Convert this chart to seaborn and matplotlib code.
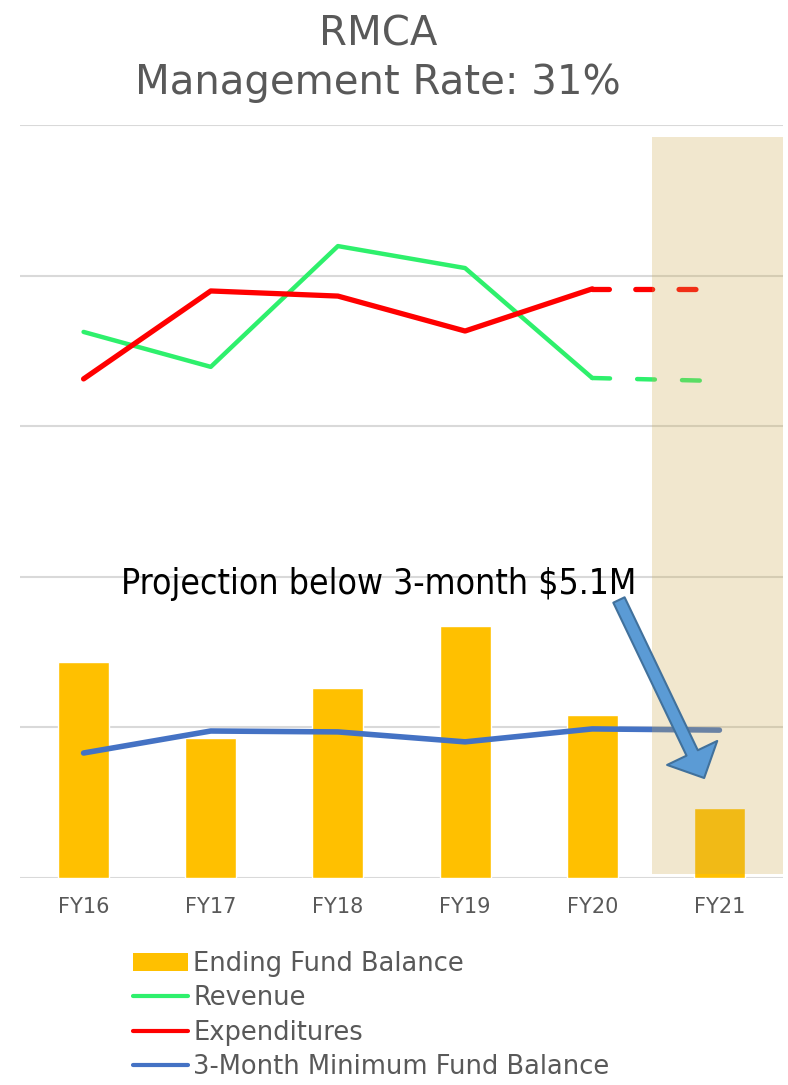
import numpy as np
import pandas as pd
import matplotlib.pyplot as plt
from matplotlib.patches import Patch
from matplotlib.lines import Line2D
import seaborn as sns

# values ($M, gridline step = 5)
years = ["FY16", "FY17", "FY18", "FY19", "FY20", "FY21"]
ending_balance = [7.17, 4.65, 6.31, 8.37, 5.41, 2.32]
revenue = [18.13, 16.97, 20.98, 20.25, 16.60, 16.50]
expenditures = [16.57, 19.49, 19.32, 18.16, 19.56, 19.56]
min_balance = [4.15, 4.88, 4.85, 4.52, 4.95, 4.91]

title = "RMCA\nManagement Rate: 31%"
note = "Projection below 3-month $5.1M"
legend_labels = ["Ending Fund Balance", "Revenue", "Expenditures",
                 "3-Month Minimum Fund Balance"]

c_bar = "#FFC000"
c_rev = "#2EF06C"
c_exp = "#FF0000"
c_min = "#4472C4"
c_text = "#595959"

sns.set_theme(style="white")
plt.rcParams['font.family'] = ['DejaVu Sans']

df = pd.DataFrame({"year": years, "pos": np.arange(len(years)),
                   "balance": ending_balance, "revenue": revenue,
                   "expenditures": expenditures, "min_balance": min_balance})
actual = df.iloc[:5]
proj = df.iloc[4:]

fig = plt.figure(figsize=(7.88, 10.85), dpi=100)
ax = fig.add_axes([20 / 788, 207 / 1085, 763 / 788, 753 / 1085])

sns.barplot(data=df, x="year", y="balance", color=c_bar, width=0.4,
            saturation=1, ax=ax, zorder=1)

sns.lineplot(data=actual, x="pos", y="revenue", color=c_rev, lw=3.2,
             ax=ax, zorder=2, solid_capstyle="round")
sns.lineplot(data=proj, x="pos", y="revenue", color=c_rev, lw=3.2,
             ax=ax, zorder=2)
ax.lines[-1].set_dashes((4, 6.1))
ax.lines[-1].set_dash_capstyle("round")

sns.lineplot(data=actual, x="pos", y="expenditures", color=c_exp, lw=3.8,
             ax=ax, zorder=2, solid_capstyle="round")
sns.lineplot(data=proj, x="pos", y="expenditures", color=c_exp, lw=3.8,
             ax=ax, zorder=2)
ax.lines[-1].set_dashes((3.2, 5.0))
ax.lines[-1].set_dash_capstyle("round")

sns.lineplot(data=df, x="pos", y="min_balance", color=c_min, lw=4,
             ax=ax, zorder=2, solid_capstyle="round")

# projection shading
ax.axvspan(4.47, 5.5, ymin=0.005, ymax=0.984, color="#CDAC52", alpha=0.28,
           lw=0, zorder=3)

ax.set_xlim(-0.5, 5.5)
ax.set_ylim(0, 25)
ax.set_yticks(np.arange(0, 26, 5))
ax.set_yticklabels([])
ax.grid(axis="y", color="#D9D9D9", lw=1.5)
ax.set_axisbelow(True)
for s in ax.spines.values():
    s.set_visible(False)
ax.set_xlabel("")
ax.set_ylabel("")
ax.tick_params(axis="x", length=0, pad=14, labelsize=15, labelcolor=c_text)
ax.tick_params(axis="y", length=0)

ax.annotate("", xy=(4.88, 3.32), xytext=(4.21, 9.23),
            arrowprops=dict(arrowstyle="simple,head_length=1.0,head_width=2.0,tail_width=0.45",
                            mutation_scale=20, fc="#5B9BD5", ec="#41719C",
                            lw=1.5, shrinkA=0, shrinkB=0),
            zorder=6)
ax.text(2.32, 9.76, note, ha="center", va="center", fontsize=25.5,
        fontstretch="condensed", color="black", zorder=6)

fig.text(0.48, 1 - 14 / 1085, title, ha="center", va="top", fontsize=29,
         color=c_text, linespacing=1.3)

handles = [Patch(facecolor=c_bar, edgecolor="none"),
           Line2D([], [], color=c_rev, lw=3, solid_capstyle="round"),
           Line2D([], [], color=c_exp, lw=3, solid_capstyle="round"),
           Line2D([], [], color=c_min, lw=3, solid_capstyle="round")]
ax.legend(handles, legend_labels, loc="upper left",
          bbox_to_anchor=(133 / 788, 1 - 951 / 1085), bbox_transform=fig.transFigure,
          frameon=False, fontsize=18.5, labelcolor=c_text, handlelength=2.15,
          handletextpad=0.2, labelspacing=0.33, borderpad=0, borderaxespad=0)

plt.savefig("out.png", dpi=100)
plt.close()
